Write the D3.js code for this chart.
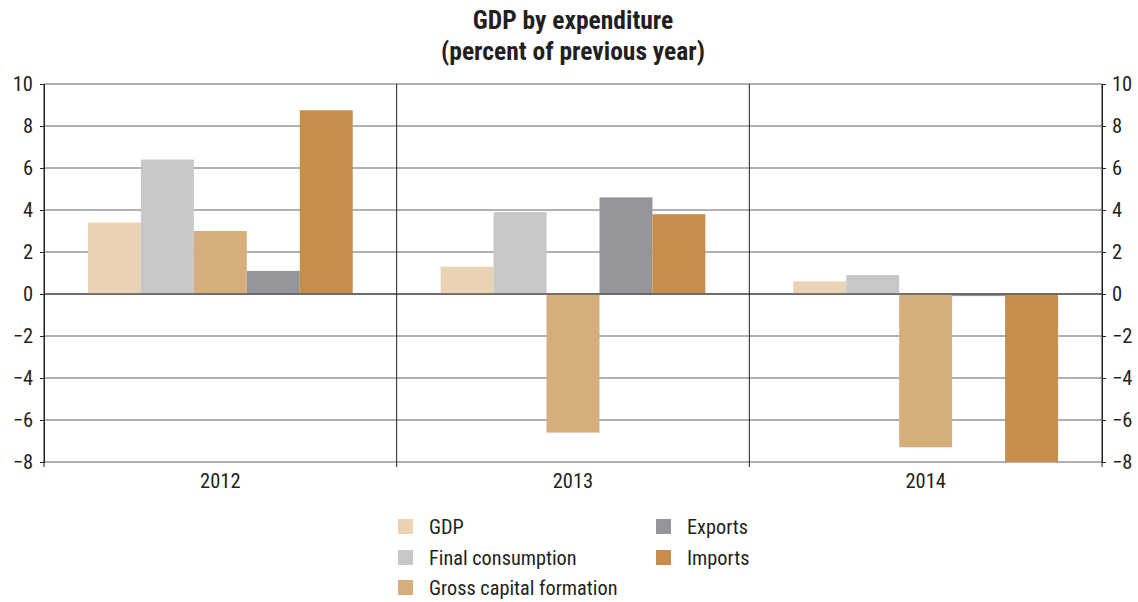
<!DOCTYPE html>
<html>
<head>
<meta charset="utf-8">
<script src="https://cdn.jsdelivr.net/npm/d3@7"></script>
<style>
  html, body { margin: 0; padding: 0; background: #fff; }
  svg text { font-family: "Liberation Sans Narrow", "Arial Narrow", "Roboto Condensed", "Liberation Sans", sans-serif; fill: #231f20; }
</style>
</head>
<body>
<svg id="chart" width="1138" height="602"></svg>
<script>
// Annual change, percent of previous year
const years = ["2012", "2013", "2014"];
const seriesNames = ["GDP", "Final consumption", "Gross capital formation", "Exports", "Imports"];
const gdp = [3.4, 1.3, 0.6];
const finalConsumption = [6.4, 3.9, 0.9];
const grossCapital = [3.0, -6.6, -7.3];
const exportsVals = [1.1, 4.6, -0.1];
const importsVals = [8.75, 3.8, -8.0];
const yTicks = [-8, -6, -4, -2, 0, 2, 4, 6, 8, 10];
const colors = ["#ead3b4", "#c6c7c9", "#d6ae7c", "#939598", "#c68e4a"];

const seriesValues = [gdp, finalConsumption, grossCapital, exportsVals, importsVals];

const svg = d3.select("#chart");
const plotLeft = 44, plotRight = 1102, plotTop = 84, plotBottom = 462;

const x0 = d3.scaleBand().domain(years).range([plotLeft, plotRight]).paddingInner(0).paddingOuter(0);
const x1 = d3.scaleBand().domain(seriesNames).range([0, x0.bandwidth()]).paddingInner(0).paddingOuter(0.83);
const y = d3.scaleLinear().domain([-8, 10]).range([plotBottom, plotTop]);

// Title
const cx = (plotLeft + plotRight) / 2;
const title = svg.append("text").attr("x", cx).attr("text-anchor", "middle")
  .style("font-weight", "bold").style("font-size", "25.5px");
title.append("tspan").attr("x", cx).attr("y", 29).text("GDP by expenditure");
title.append("tspan").attr("x", cx).attr("y", 60).text("(percent of previous year)");

// Horizontal grid lines
svg.append("g").selectAll("line").data(yTicks).join("line")
  .attr("x1", plotLeft).attr("x2", plotRight)
  .attr("y1", d => y(d)).attr("y2", d => y(d))
  .attr("stroke", "#636466").attr("stroke-width", 1.2);

// Bars
const groups = svg.append("g").selectAll("g").data(years).join("g")
  .attr("transform", d => `translate(${x0(d)},0)`);
groups.selectAll("rect")
  .data((yr, i) => seriesNames.map((s, k) => ({ s, k, v: seriesValues[k][i] })))
  .join("rect")
  .attr("x", d => x1(d.s))
  .attr("width", x1.bandwidth())
  .attr("y", d => y(Math.max(0, d.v)))
  .attr("height", d => Math.abs(y(d.v) - y(0)))
  .attr("fill", d => colors[d.k]);

// Zero line on top of bars
svg.append("line").attr("x1", plotLeft).attr("x2", plotRight)
  .attr("y1", y(0)).attr("y2", y(0))
  .attr("stroke", "#58595b").attr("stroke-width", 1.3);

// Category separators
const seps = [plotLeft, ...years.slice(1).map(d => x0(d)), plotRight];
svg.append("g").selectAll("line").data(seps).join("line")
  .attr("x1", d => d).attr("x2", d => d)
  .attr("y1", plotTop).attr("y2", plotBottom + 5)
  .attr("stroke", "#231f20").attr("stroke-width", 1);

// Value axes on both sides
const fmt = d => d < 0 ? "\u2212" + Math.abs(d) : d;
const gL = svg.append("g").attr("transform", `translate(${plotLeft},0)`)
  .call(d3.axisLeft(y).tickValues(yTicks).tickSize(4).tickPadding(7).tickFormat(fmt));
const gR = svg.append("g").attr("transform", `translate(${plotRight},0)`)
  .call(d3.axisRight(y).tickValues(yTicks).tickSize(4).tickPadding(6).tickFormat(fmt));
[gL, gR].forEach(g => {
  g.select(".domain").attr("stroke", "#231f20");
  g.selectAll(".tick line").attr("stroke", "#231f20");
  g.selectAll("text").style("font-size", "20.5px").attr("fill", "#231f20")
    .style("font-family", "'Liberation Sans Narrow', 'Arial Narrow', 'Roboto Condensed', 'Liberation Sans', sans-serif");
});

// Category labels
svg.append("g").selectAll("text").data(years).join("text")
  .attr("x", d => x0(d) + x0.bandwidth() / 2)
  .attr("y", 488)
  .attr("text-anchor", "middle")
  .style("font-size", "20.5px")
  .text(d => d);

// Legend
const legendPos = [
  { x: 398, y: 527 }, { x: 398, y: 558 }, { x: 398, y: 588 },
  { x: 656, y: 527 }, { x: 656, y: 558 }
];
const legend = svg.append("g").selectAll("g").data(seriesNames).join("g")
  .attr("transform", (d, i) => `translate(${legendPos[i].x},${legendPos[i].y})`);
legend.append("rect").attr("x", 0).attr("y", -8).attr("width", 15).attr("height", 15)
  .attr("fill", (d, i) => colors[i]);
legend.append("text").attr("x", 31).attr("y", 7).style("font-size", "20.3px").text(d => d);
</script>
</body>
</html>
